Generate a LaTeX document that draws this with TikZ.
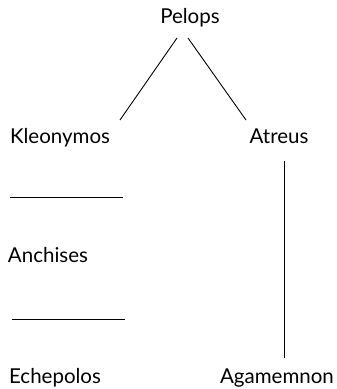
\documentclass[tikz,border=0pt]{standalone}
\usepackage{fontspec}
\setmainfont{Lato}
\usetikzlibrary{calc}
\begin{document}
\begin{tikzpicture}[x=1pt,y=-1pt,
  person/.style={inner sep=0pt,anchor=base,font=\fontsize{20.5}{23}\selectfont},
  link/.style={line width=0.9pt,black}]
\useasboundingbox (0,0) rectangle (337,389);
\node[person] (pelops) at (190,23) {Pelops};
\node[person] (kleo) at (60,143) {Kleonymos};
\node[person] (atreus) at (279,143) {Atreus};
\node[person] (anch) at (48,262) {Anchises};
\node[person] (eche) at (55,383) {Echepolos};
\node[person] (agam) at (277,383) {Agamemnon};
\coordinate (h1a) at ($(kleo.base)+(-50,54)$);
\coordinate (h1b) at ($(kleo.base)+(63,54)$);
\coordinate (h2a) at ($(anch.base)+(-36,57)$);
\coordinate (h2b) at ($(anch.base)+(77,57)$);
\draw[link] ($(pelops.base)+(-13,15)$) -- ($(kleo.base)+(60,-23)$);
\draw[link] ($(pelops.base)+(-2,15)$) -- ($(atreus.base)+(-33,-23)$);
\draw[link] ($(atreus.base)+(5,18)$) -- ($(agam.base)+(7,-25)$);
\draw[link] (h1a) -- (h1b);
\draw[link] (h2a) -- (h2b);
\end{tikzpicture}
\end{document}
